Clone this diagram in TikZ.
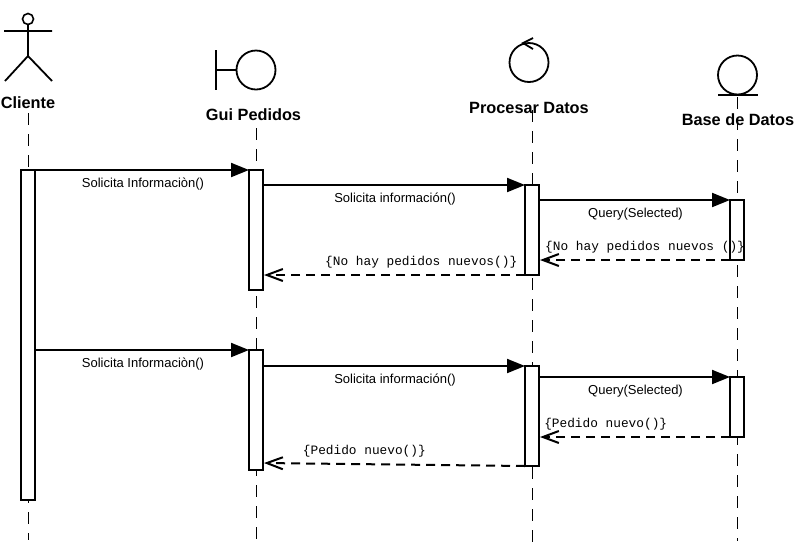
\documentclass[tikz,border=0pt]{standalone}
\usepackage{fontspec}
\usepackage{tikz}
\usetikzlibrary{positioning, arrows.meta}
\newfontfamily\titlefont{Liberation Sans}[Scale=1]
\newfontfamily\labelfont{Liberation Sans}
\newfontfamily\returnfont{Liberation Mono}
\tikzset{activation/.style={draw, fill=white, line width=2pt, minimum width=14pt, inner sep=0pt, outer sep=0pt, anchor=north}}
\tikzset{titlename/.style={font=\titlefont\fontsize{16.3}{18}\selectfont\bfseries, inner sep=0pt}}
\tikzset{icon/.style={draw, circle, line width=1.8pt, minimum size=39pt, inner sep=0pt, outer sep=0pt}}
\tikzset{lifeline/.style={line width=1pt, dash pattern=on 12pt off 9pt}}
\tikzset{call/.style={line width=2pt, -{Triangle[length=18pt,width=14pt]}}}
\tikzset{return/.style={line width=2pt, dash pattern=on 9pt off 6pt, -{Straight Barb[length=16pt,width=12pt]}, shorten >=1pt}}
\tikzset{calltext/.style={below, font=\labelfont\fontsize{13}{14}\selectfont, inner sep=0pt, yshift=-7pt, xshift=1pt}}
\tikzset{returntext/.style={above, font=\returnfont\fontsize{12.8}{14}\selectfont, inner sep=0pt, yshift=6pt, xshift=1pt}}

\begin{document}
\begin{tikzpicture}[x=1pt, y=-1pt]
	\useasboundingbox (0,0) rectangle (798,550);
	% lifelines
	\coordinate (cliente) at (28,0);
	\coordinate (gui) at (256,0);
	\coordinate (proc) at (532,0);
	\coordinate (base) at (737,0);
	\coordinate (clienteTop) at (28,113);
	\coordinate (clienteEnd) at (28,540);
	\coordinate (guiTop) at (256,128);
	\coordinate (guiEnd) at (256,540);
	\coordinate (procTop) at (532,110);
	\coordinate (procEnd) at (532,547);
	\coordinate (baseTop) at (737,97);
	\coordinate (baseEnd) at (737,541);
	\draw (clienteTop) edge[lifeline] (clienteEnd);
	\draw (guiTop) edge[lifeline] (guiEnd);
	\draw (procTop) edge[lifeline] (procEnd);
	\draw (baseTop) edge[lifeline] (baseEnd);

	% actors
	\node[draw, circle, line width=1.6pt, minimum size=11pt, inner sep=0pt, outer sep=0pt] (head) at (28,19) {};
	\coordinate (armL) at (4,31);
	\coordinate (armR) at (52,31);
	\coordinate (hip) at (28,56);
	\coordinate (legL) at (5,81);
	\coordinate (legR) at (52,81);
	\draw[line width=1.8pt] (head) -- (hip) (armL) -- (armR) (legL) -- (hip) -- (legR);
	\node[icon] (boundary) at (256,70) {};
	\coordinate (barTop) at (216,50);
	\coordinate (barEnd) at (216,90);
	\draw[line width=1.8pt] (barTop) -- (barEnd) (boundary.west) -- (boundary.west -| barTop);
	\node[icon] (control) at (529,62.5) {};
	\coordinate (tipUp) at (533,38);
	\coordinate (tipMid) at (523,43);
	\coordinate (tipLow) at (533,49);
	\draw[line width=1.8pt] (tipUp) -- (tipMid) -- (tipLow);
	\node[icon] (entity) at (737.5,75) {};
	\coordinate (baseL) at (718,95);
	\coordinate (baseR) at (758,95);
	\draw[line width=1.8pt] (baseL) -- (baseR);

	% names
	\node[titlename] (tCliente) at (28,103) {Cliente};
	\node[titlename] (tGui) at (253.5,115) {Gui Pedidos};
	\node[titlename] (tProc) at (529,108) {Procesar Datos};
	\node[titlename] (tBase) at (738,120) {Base de Datos};

	% activation bars
	\node[activation, minimum height=330pt, below=170pt of cliente] (c1) {};
	\node[activation, minimum height=120pt, below=170pt of gui] (g1) {};
	\node[activation, minimum height=120pt, below=350pt of gui] (g2) {};
	\node[activation, minimum height=90pt, below=185pt of proc] (p1) {};
	\node[activation, minimum height=100pt, below=366pt of proc] (p2) {};
	\node[activation, minimum height=60pt, below=200pt of base] (b1) {};
	\node[activation, minimum height=60pt, below=377pt of base] (b2) {};

	% messages
	\draw (c1.north east) edge[call] node[calltext]{Solicita Informaciòn()} (g1.north west);
	\draw (g1.east |- p1.north) edge[call] node[calltext]{Solicita información()} (p1.north west);
	\draw (p1.east |- b1.north) edge[call] node[calltext]{Query(Selected)} (b1.north west);
	\draw (b1.south west) edge[return] node[returntext, pos=0.45]{\{No hay pedidos nuevos ()\}} (p1.east |- b1.south);
	\draw (p1.south west) edge[return] node[returntext, pos=0.4]{\{No hay pedidos nuevos()\}} (g1.east |- p1.south);
	\draw (c1.east |- g2.north) edge[call] node[calltext]{Solicita Informaciòn()} (g2.north west);
	\draw (g2.east |- p2.north) edge[call] node[calltext]{Solicita información()} (p2.north west);
	\draw (p2.east |- b2.north) edge[call] node[calltext]{Query(Selected)} (b2.north west);
	\draw (b2.south west) edge[return] node[returntext, pos=0.656]{\{Pedido nuevo()\}} (p2.east |- b2.south);
	\coordinate (backGui) at (263,463);
	\draw (p2.south west) edge[return] node[returntext, pos=0.617]{\{Pedido nuevo()\}} (backGui);
\end{tikzpicture}
\end{document}
